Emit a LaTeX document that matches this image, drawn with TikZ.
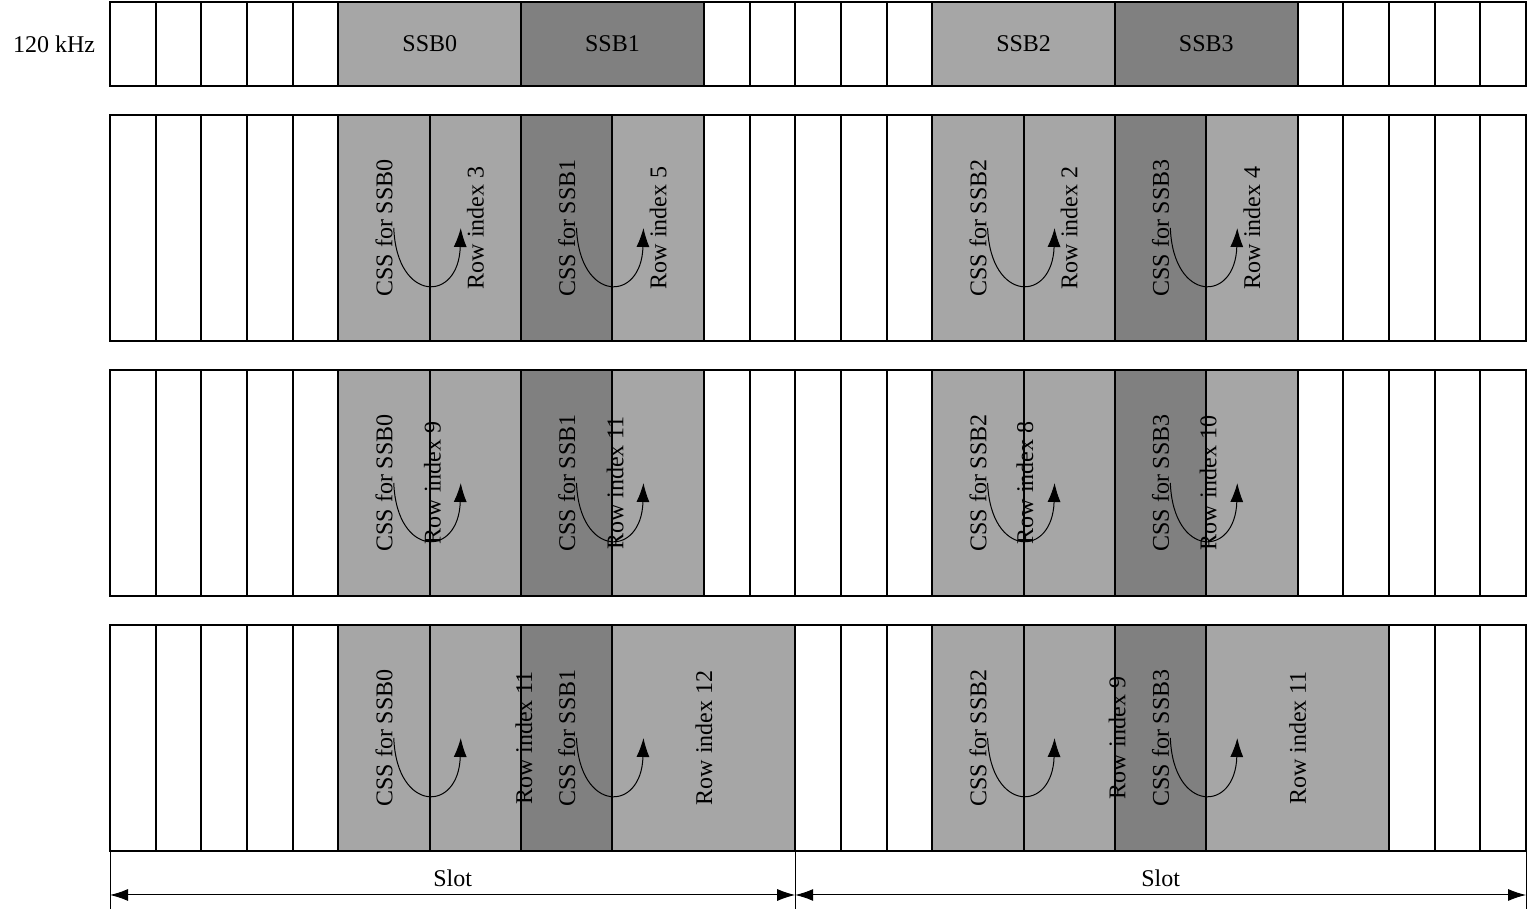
\documentclass[tikz,border=0pt]{standalone}
\usepackage{fontspec}
\setmainfont{Liberation Serif}
\usetikzlibrary{arrows.meta}
\definecolor{ssblight}{HTML}{A6A6A6}
\definecolor{ssbdark}{HTML}{808080}
\tikzset{
  grid/.style={draw, line width=1pt, fill=white},
  lbl/.style={font=\fontsize{12}{14}\selectfont, inner sep=0pt},
  vlbl/.style={lbl, rotate=90},
  hop/.style={-{Latex[length=9.5pt,width=6.5pt]}, line width=0.5pt},
  span/.style={{Latex[length=9pt,width=6pt]}-{Latex[length=9pt,width=6pt]}, line width=0.5pt},
}
\newcommand{\cw}{45.68}

\begin{document}
\begin{tikzpicture}[x=0.5pt,y=0.5pt]
\useasboundingbox (0,0) rectangle (1528,909);

% symbol grid, one strip per line
\foreach \yb/\h in {823/84, 568/226, 313/226, 58/226}
  \foreach \i in {0,...,30}
    \draw[grid] ({110+\i*\cw},\yb) rectangle +(\cw,\h);

% SSB blocks
\foreach \a/\c in {5/ssblight, 9/ssbdark, 18/ssblight, 22/ssbdark}
  \draw[grid, fill=\c] ({110+\a*\cw},823) rectangle +({4*\cw},84);
\foreach \yb in {568,313}
  \foreach \a/\c in {5/ssblight,7/ssblight,9/ssbdark,11/ssblight,18/ssblight,20/ssblight,22/ssbdark,24/ssblight}
    \draw[grid, fill=\c] ({110+\a*\cw},\yb) rectangle +({2*\cw},226);
\foreach \a/\n/\c in {5/2/ssblight,7/2/ssblight,9/2/ssbdark,11/4/ssblight,18/2/ssblight,20/2/ssblight,22/2/ssbdark,24/4/ssblight}
  \draw[grid, fill=\c] ({110+\a*\cw},58) rectangle +({\n*\cw},226);

\node[lbl] (scs) at (54,865) {120 kHz};
\foreach \a/\t in {5/0, 9/1, 18/2, 22/3}
  \node[lbl] (ssb\t) at ({110+(\a+2)*\cw},865) {SSB\t};

% CSS labels and hops
\foreach \r/\yc in {2/681, 3/426, 4/171}
  \foreach \k/\a in {0/5, 1/9, 2/18, 3/22} {
    \pgfmathsetmacro\bx{110+(\a+2)*\cw}
    \node[vlbl] (css\r\k) at ({110+(\a+1)*\cw},\yc) {CSS for SSB\k};
    \coordinate (from\r\k) at ({\bx-36},\yc);
    \coordinate (to\r\k) at ({\bx+31},\yc);
    \draw[hop] (from\r\k) .. controls ({\bx-33},{\yc-75}) and ({\bx+29},{\yc-75}) .. (to\r\k);
  }

% row indices
\foreach \r/\yc/\k/\u/\t in {2/681/0/8/3, 2/681/1/12/5, 2/681/2/21/2, 2/681/3/25/4,
    3/426/0/7.06/9, 3/426/1/11.06/11, 3/426/2/20.03/8, 3/426/3/24.04/10,
    4/171/0/9.06/11, 4/171/1/13/12, 4/171/2/22.05/9, 4/171/3/26/11}
  \node[vlbl] (idx\r\k) at ({110+\u*\cw},\yc) {Row index \t};

% slots
\coordinate (s0) at (110,14);
\coordinate (s1) at ({110+15*\cw},14);
\coordinate (s2) at ({110+31*\cw},14);
\foreach \i in {0,15,31}
  \draw[line width=0.5pt] ({110+\i*\cw},58) -- ({110+\i*\cw},0);
\draw[span] (s0) -- (s1);
\draw[span] (s1) -- (s2);
\node[lbl] (slotA) at ({110+7.5*\cw},31) {Slot};
\node[lbl] (slotB) at ({110+23*\cw},31) {Slot};
\end{tikzpicture}
\end{document}
